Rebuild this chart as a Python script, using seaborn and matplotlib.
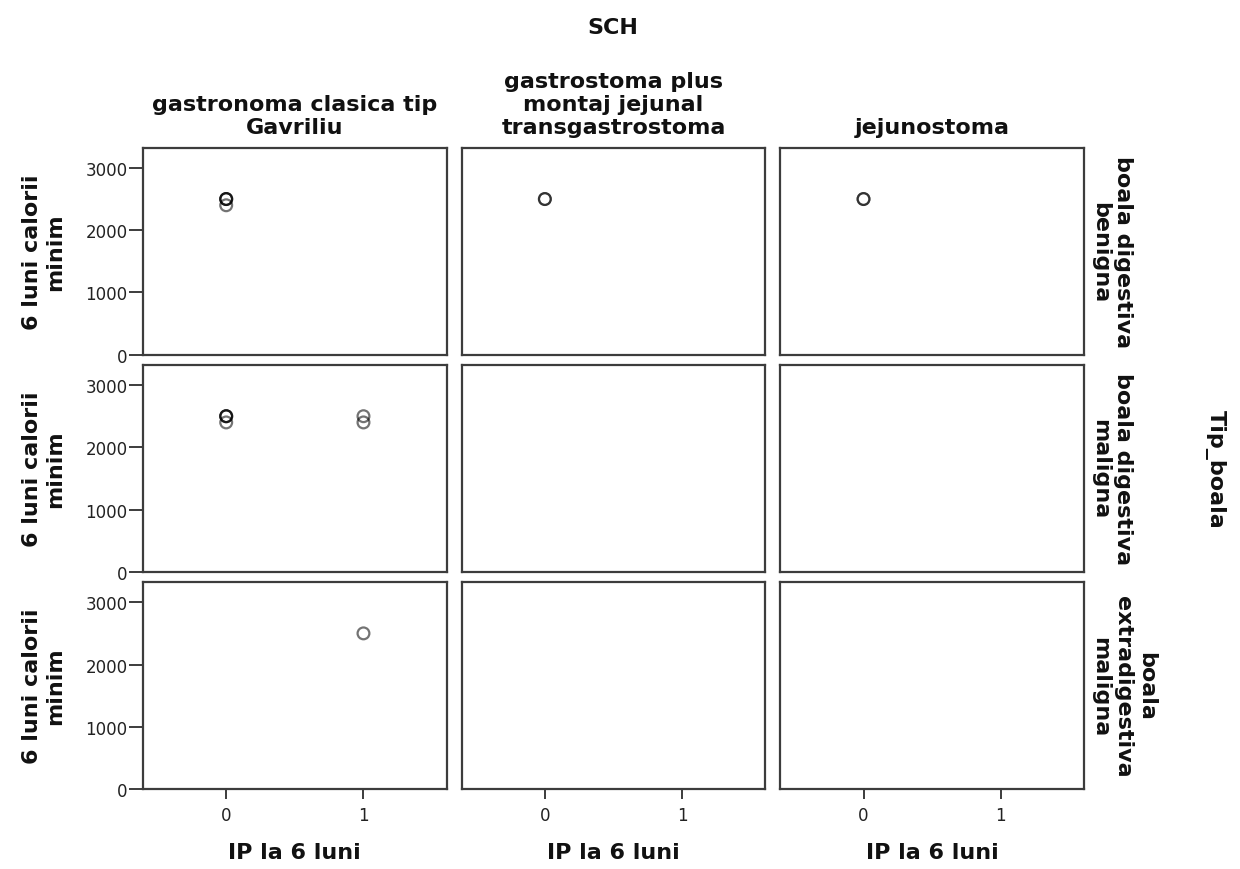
import matplotlib
matplotlib.use("Agg")
import matplotlib.pyplot as plt
import seaborn as sns
import pandas as pd

# Facet categories
sch_levels = [
    "gastronoma clasica tip\nGavriliu",
    "gastrostoma plus\nmontaj jejunal\ntransgastrostoma",
    "jejunostoma",
]
boala_levels = [
    "boala digestiva\nbenigna",
    "boala digestiva\nmaligna",
    "boala\nextradigestiva\nmaligna",
]

# Observations: (SCH index, Tip_boala index, IP la 6 luni, calorii minim)
obs_sch = [0, 0, 0, 0, 0, 0, 0, 0, 0, 0, 0, 1, 1, 2, 2]
obs_boala = [0, 0, 0, 0, 1, 1, 1, 1, 1, 1, 2, 0, 0, 0, 0]
ip_6luni = [0, 0, 0, 0, 0, 0, 0, 0, 1, 1, 1, 0, 0, 0, 0]
calorii_minim = [2500, 2500, 2500, 2400, 2500, 2500, 2500, 2400, 2500, 2400, 2500,
                 2500, 2500, 2500, 2500]

df = pd.DataFrame({
    "SCH": pd.Categorical([sch_levels[i] for i in obs_sch], categories=sch_levels),
    "Tip_boala": pd.Categorical([boala_levels[i] for i in obs_boala], categories=boala_levels),
    "IP la 6 luni": ip_6luni,
    "6 luni calorii minim": calorii_minim,
})

sns.set_theme(style="white")
plt.rcParams["font.family"] = ["DejaVu Sans"]

g = sns.FacetGrid(df, row="Tip_boala", col="SCH", row_order=boala_levels,
                  col_order=sch_levels, sharex=True, sharey=True,
                  height=2.5, aspect=1.4, despine=False)
g.map_dataframe(sns.scatterplot, x="IP la 6 luni", y="6 luni calorii minim",
                marker="o", s=72, facecolor="none", edgecolor="black",
                linewidth=1.6, alpha=0.55)

fig = g.figure
fig.set_size_inches(12.4, 8.7)
W, H = 1240, 870
fig.subplots_adjust(left=143 / W, right=1084 / W, top=1 - 149 / H,
                    bottom=1 - 790 / H, wspace=0.0494, hspace=0.0508)

g.set_titles(template="")
g.set_axis_labels("", "")
g.set(xlim=(-0.606, 1.606), ylim=(0, 3320), xticks=[0, 1],
      yticks=[0, 1000, 2000, 3000])

spine_col = "#3c3c3c"
for i in range(3):
    for j in range(3):
        ax = g.axes[i, j]
        for sp in ax.spines.values():
            sp.set_color(spine_col)
            sp.set_linewidth(1.6)
        ax.tick_params(axis="both", colors=spine_col, width=1.4,
                       labelcolor="#222222", labelsize=12)
        ax.tick_params(axis="y", left=(j == 0), length=10, pad=1,
                       labelleft=(j == 0))
        ax.tick_params(axis="x", bottom=(i == 2), length=7, pad=5,
                       labelbottom=(i == 2))

label_kw = dict(fontsize=16, fontweight="bold", color="#111111")
ls = 1.2

# Column headers
for j, name in enumerate(sch_levels):
    pos = g.axes[0, j].get_position()
    fig.text((pos.x0 + pos.x1) / 2, pos.y1 + 11 / H, name, ha="center",
             va="bottom", multialignment="center", linespacing=ls, **label_kw)

# Row headers, y labels
for i, name in enumerate(boala_levels):
    pos = g.axes[i, 2].get_position()
    yc = (pos.y0 + pos.y1) / 2
    fig.text(pos.x1 + 6 / W, yc, name, rotation=-90, ha="left", va="center",
             multialignment="center", linespacing=ls, **label_kw)
    fig.text(44 / W, yc, "6 luni calorii\nminim", rotation=90, ha="center",
             va="center", multialignment="center", linespacing=ls, **label_kw)

# x labels
for j in range(3):
    pos = g.axes[2, j].get_position()
    fig.text((pos.x0 + pos.x1) / 2, 1 - 853 / H, "IP la 6 luni", ha="center",
             va="center", **label_kw)

top = g.axes[0, 0].get_position().y1
bottom = g.axes[2, 0].get_position().y0
fig.text(1215 / W, (top + bottom) / 2, "Tip_boala", rotation=-90, ha="center",
         va="center", **label_kw)
fig.text(613 / W, 1 - 28 / H, "SCH", ha="center", va="center", **label_kw)

fig.savefig("out.png", dpi=100, facecolor="white")
